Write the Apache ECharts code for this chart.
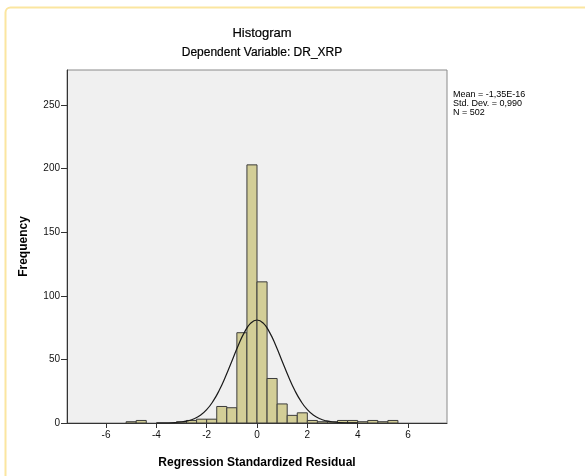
<!DOCTYPE html>
<html>
<head>
<meta charset="utf-8">
<script src="https://cdn.jsdelivr.net/npm/echarts@6/dist/echarts.min.js"></script>
<style>
html,body{margin:0;padding:0;background:#fff;}
#chart{width:585px;height:476px;}
</style>
</head>
<body>
<div id="chart"></div>
<script>
// Histogram bins (lower edge, upper edge) and counts
var binStart = [-5.2, -4.8, -3.2, -2.8, -2.4, -2.0, -1.6, -1.2, -0.8, -0.4, 0.0, 0.4, 0.8, 1.2, 1.6, 2.0, 2.4, 2.8, 3.2, 3.6, 4.0, 4.4, 4.8, 5.2];
var binEnd   = [-4.8, -4.4, -2.8, -2.4, -2.0, -1.6, -1.2, -0.8, -0.4, 0.0, 0.4, 0.8, 1.2, 1.6, 2.0, 2.4, 2.8, 3.2, 3.6, 4.0, 4.4, 4.8, 5.2, 5.6];
var counts   = [1, 2, 1, 2, 3, 3, 13, 12, 71, 203, 111, 35, 15, 6, 8, 2, 1, 1, 2, 2, 1, 2, 1, 2];

// Normal curve points
var curveX = [-4.0, -3.5, -3.0, -2.75, -2.5, -2.25, -2.0, -1.75, -1.5, -1.25, -1.0, -0.75, -0.5, -0.25, 0.0, 0.25, 0.5, 0.75, 1.0, 1.25, 1.5, 1.75, 2.0, 2.25, 2.5, 2.75, 3.0, 3.5, 4.0];
var curveY = [0.02, 0.15, 0.8, 1.7, 3.3, 6.1, 10.5, 17.0, 25.7, 36.5, 48.6, 60.8, 71.3, 78.5, 81.0, 78.5, 71.3, 60.8, 48.6, 36.5, 25.7, 17.0, 10.5, 6.1, 3.3, 1.7, 0.8, 0.15, 0.02];

// Axis ticks
var xTicks = [-6, -4, -2, 0, 2, 4, 6];
var yTicks = [0, 50, 100, 150, 200, 250];

// Texts
var titleText = 'Histogram';
var subtitleText = 'Dependent Variable: DR_XRP';
var xName = 'Regression Standardized Residual';
var yName = 'Frequency';
var statsLines = ['Mean = -1,35E-16', 'Std. Dev. = 0,990', 'N = 502'];

var barData = binStart.map(function (s, i) { return [s, binEnd[i], counts[i]]; });
var lineData = curveX.map(function (x, i) { return [x, curveY[i]]; });

var chart = echarts.init(document.getElementById('chart'), null, {renderer: 'canvas'});
var font = 'Liberation Sans, Arial, sans-serif';

chart.setOption({
  animation: false,
  backgroundColor: '#ffffff',
  textStyle: {fontFamily: font},
  title: [
    {text: titleText, left: 257, top: 22, textAlign: 'center',
     textStyle: {fontSize: 13, fontWeight: 'normal', color: '#000', fontFamily: font, textBorderColor: '#000', textBorderWidth: 0.2}},
    {text: subtitleText, left: 257, top: 42, textAlign: 'center',
     textStyle: {fontSize: 12, fontWeight: 'normal', color: '#000', fontFamily: font, textBorderColor: '#000', textBorderWidth: 0.2}}
  ],
  grid: {left: 67, right: 138, top: 70, bottom: 53, show: true,
         backgroundColor: '#f0f0f0', borderColor: '#8a8a8a', borderWidth: 1},
  xAxis: {
    type: 'value', min: -7.55, max: 7.55,
    name: xName, nameLocation: 'middle', nameGap: 34,
    nameTextStyle: {fontSize: 12, fontWeight: 'bold', color: '#000', fontFamily: font},
    axisLine: {show: true, onZero: false, lineStyle: {color: '#333', width: 1}},
    axisTick: {show: true, customValues: xTicks, length: 5, lineStyle: {color: '#333'}},
    axisLabel: {customValues: xTicks, fontSize: 10, color: '#111', margin: 7, fontFamily: font},
    splitLine: {show: false}
  },
  yAxis: {
    type: 'value', min: 0, max: 277.6,
    name: yName, nameLocation: 'middle', nameGap: 37, nameRotate: 90,
    nameTextStyle: {fontSize: 12, fontWeight: 'bold', color: '#000', fontFamily: font},
    axisLine: {show: true, onZero: false, lineStyle: {color: '#333', width: 1}},
    axisTick: {show: true, customValues: yTicks, length: 6, lineStyle: {color: '#333'}},
    axisLabel: {customValues: yTicks, fontSize: 10, color: '#111', margin: 7, fontFamily: font},
    splitLine: {show: false}
  },
  series: [
    {
      type: 'custom',
      data: barData,
      encode: {x: [0, 1], y: 2},
      renderItem: function (params, api) {
        var p0 = api.coord([api.value(0), api.value(2)]);
        var p1 = api.coord([api.value(1), 0]);
        return {
          type: 'rect',
          shape: {x: p0[0], y: p0[1], width: p1[0] - p0[0], height: p1[1] - p0[1]},
          style: {fill: '#d3ce97', stroke: '#3c3c3c', lineWidth: 1}
        };
      },
      z: 2
    },
    {
      type: 'line',
      data: lineData,
      smooth: true,
      showSymbol: false,
      symbol: 'none',
      lineStyle: {color: '#1a1a1a', width: 1.2},
      z: 3
    }
  ],
  graphic: [
    {type: 'rect', shape: {x: 5.5, y: 7.5, width: 640, height: 520, r: 5},
     style: {fill: 'none', stroke: '#fbe6a0', lineWidth: 2}, z: 0, silent: true},
    {type: 'text', left: 453, top: 90,
     style: {text: statsLines.join('\n'), font: '9px Liberation Sans, Arial, sans-serif', fill: '#000', lineHeight: 9}}
  ]
});
</script>
</body>
</html>
